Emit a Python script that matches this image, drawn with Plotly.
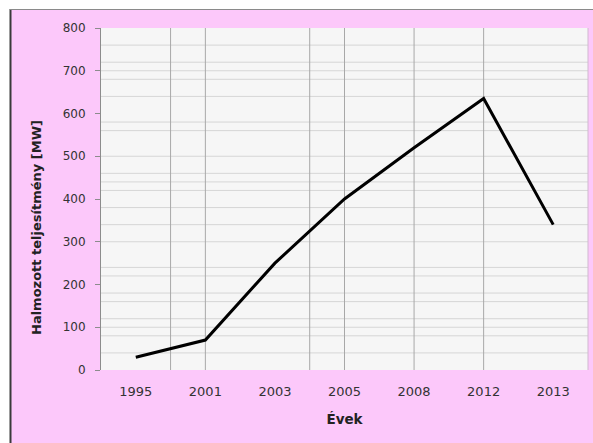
import plotly.graph_objects as go

# Cumulative installed capacity by year
years = ["1995", "2001", "2003", "2005", "2008", "2012", "2013"]
capacity_mw = [30, 70, 250, 400, 520, 635, 340]

# Gridline placement (category index for vertical lines, MW for horizontal lines)
v_grid = [0.5, 1, 2.5, 3, 4, 5]
h_grid = [40, 80, 100, 120, 160, 180, 220, 240, 300, 340, 380, 420, 440, 460,
          500, 560, 580, 640, 680, 700, 720, 760]

PINK = "#fcc8fa"
FONT = "'DejaVu Sans', sans-serif"

x_idx = list(range(len(years)))

fig = go.Figure()
fig.add_trace(go.Scatter(
    x=x_idx, y=capacity_mw, mode="lines",
    line=dict(color="#000000", width=3),
    showlegend=False, hoverinfo="skip",
))

shapes = []
for v in h_grid:
    shapes.append(dict(type="line", xref="x domain", yref="y", x0=0, x1=1, y0=v, y1=v,
                       line=dict(color="#d6d6d6", width=1), layer="below"))
for v in v_grid:
    shapes.append(dict(type="line", xref="x", yref="y domain", x0=v, x1=v, y0=0, y1=1,
                       line=dict(color="#a8a8a8", width=1), layer="below"))

# Outer frame: white margin strip at left/top with dark edge of the pink panel
W, H = 593, 443
ml, mr, mt, mb = 101, 5, 28, 73
pw, ph = W - ml - mr, H - mt - mb
def px_x(px):
    return (px - ml) / pw
def px_y(py):
    return (H - mb - py) / ph
shapes += [
    dict(type="rect", xref="paper", yref="paper", x0=px_x(-2), x1=px_x(10), y0=px_y(H + 2), y1=px_y(-2),
         fillcolor="white", line=dict(width=0), layer="above"),
    dict(type="rect", xref="paper", yref="paper", x0=px_x(-2), x1=px_x(W + 2), y0=px_y(9), y1=px_y(-2),
         fillcolor="white", line=dict(width=0), layer="above"),
    dict(type="line", xref="paper", yref="paper", x0=px_x(10.5), x1=px_x(10.5), y0=px_y(9), y1=px_y(H + 2),
         line=dict(color="#3a3a3a", width=2), layer="above"),
    dict(type="line", xref="paper", yref="paper", x0=px_x(10), x1=px_x(W + 2), y0=px_y(9.5), y1=px_y(9.5),
         line=dict(color="#8a8a8a", width=1), layer="above"),
    dict(type="line", xref="paper", yref="paper", x0=1, x1=1, y0=0, y1=1,
         line=dict(color="#d0b8d0", width=1), layer="above"),
]

# Y-axis title placed as an annotation so it can sit slightly below the plot centre
annotations = [dict(
    text="<b>Halmozott teljesítmény [MW]</b>",
    xref="paper", yref="paper", x=px_x(36), y=px_y(228),
    xanchor="center", yanchor="middle", textangle=-90, showarrow=False,
    font=dict(family=FONT, size=13, color="#222222"),
)]

fig.update_layout(
    width=W, height=H,
    margin=dict(l=ml, r=mr, t=mt, b=mb),
    paper_bgcolor=PINK,
    plot_bgcolor="#f6f6f6",
    font=dict(family=FONT, size=11, color="#333333"),
    shapes=shapes,
    annotations=annotations,
    xaxis=dict(
        range=[-0.5, len(years) - 0.5],
        tickmode="array", tickvals=x_idx, ticktext=years,
        tickfont=dict(family=FONT, size=13, color="#333333"),
        showgrid=False, zeroline=False, showline=False, ticks="",
        ticklabelstandoff=12,
        title=dict(text="<b>Évek</b>", font=dict(family=FONT, size=13.5, color="#222222"), standoff=16),
    ),
    yaxis=dict(
        range=[0, 800], dtick=100,
        tickfont=dict(family=FONT, size=12, color="#333333"),
        showgrid=False, zeroline=False,
        showline=True, linecolor="#8c8c8c", linewidth=1,
        ticks="outside", ticklen=5, tickcolor="#8c8c8c",
        ticklabelstandoff=7,
    ),
)

fig.write_html("out.html")
